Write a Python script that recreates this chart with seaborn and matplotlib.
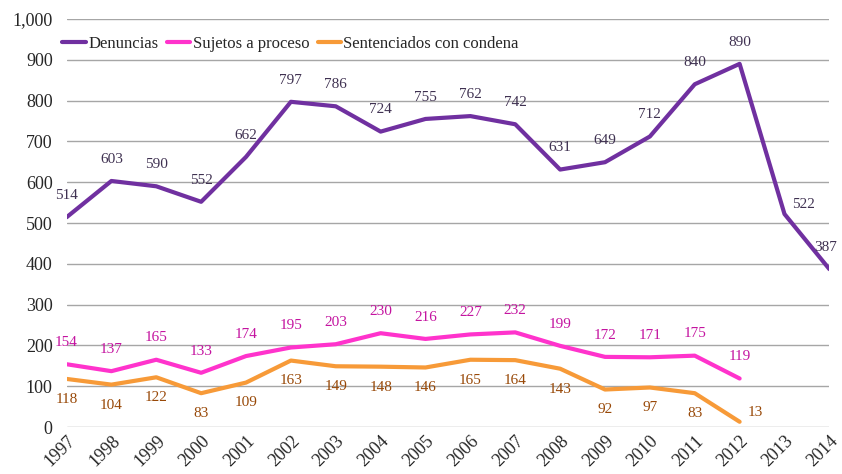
"""Denuncias, sujetos a proceso y sentenciados, 1997-2014"""

import matplotlib.pyplot as plt
import matplotlib.ticker as mticker
import pandas as pd
import seaborn as sns

YEARS = list(range(1997, 2015))
DENUNCIAS = [514, 603, 590, 552, 662, 797, 786, 724, 755, 762, 742, 631, 649, 712, 840, 890, 522, 387]
SUJETOS = [154, 137, 165, 133, 174, 195, 203, 230, 216, 227, 232, 199, 172, 171, 175, 119]
SENTENCIADOS = [118, 104, 122, 83, 109, 163, 149, 148, 146, 165, 164, 143, 92, 97, 83, 13]

SERIES = ["Denuncias", "Sujetos a proceso", "Sentenciados con condena"]
LINE_COLORS = ["#7030A0", "#FF33CC", "#F79A38"]
LABEL_COLORS = ["#3F3151", "#C414A0", "#984807"]

# a few labels sit beside their point instead of above/below it (points offset)
SPECIAL_OFFSETS = {
    ("Denuncias", 2013): (14, 2),
    ("Denuncias", 2014): (-3, 11),
    ("Sentenciados con condena", 2012): (11, 2),
}


def build_frame() -> pd.DataFrame:
    rows = []
    for name, values in zip(SERIES, [DENUNCIAS, SUJETOS, SENTENCIADOS]):
        for year, v in zip(YEARS, values):
            rows.append({"Año": year, "Valor": v, "Serie": name})
    return pd.DataFrame(rows)


def main() -> None:
    sns.set_style("white")
    plt.rcParams["font.family"] = ["Liberation Serif", "DejaVu Serif"]

    df = build_frame()
    fig = plt.figure(figsize=(8.42, 4.74), dpi=100)
    ax = fig.add_axes([0.079, 0.099, 0.906, 0.861])

    sns.lineplot(data=df, x="Año", y="Valor", hue="Serie", hue_order=SERIES,
                 palette=LINE_COLORS, linewidth=3, ax=ax)

    # data labels
    offsets = [11, 11, -10]
    for name, values, color, off in zip(SERIES, [DENUNCIAS, SUJETOS, SENTENCIADOS], LABEL_COLORS, offsets):
        for year, v in zip(YEARS, values):
            dx, dy = SPECIAL_OFFSETS.get((name, year), (0, off))
            ax.annotate(str(v), (year, v), xytext=(dx, dy), textcoords="offset points",
                        ha="center", va="bottom" if dy > 0 else "top",
                        color=color, fontsize=11)

    ax.set_xlim(1997, 2014)
    ax.set_ylim(0, 1000)
    ax.set_xticks(YEARS)
    ax.set_xticklabels([str(y) for y in YEARS], rotation=45, ha="right",
                       rotation_mode="anchor", fontsize=13)
    ax.yaxis.set_major_locator(mticker.MultipleLocator(100))
    ax.yaxis.set_major_formatter(mticker.FuncFormatter(lambda v, p: f"{int(v):,}"))
    ax.tick_params(axis="y", labelsize=13, length=0, pad=10)
    ax.tick_params(axis="x", length=0, pad=4)
    ax.set_xlabel("")
    ax.set_ylabel("")
    ax.grid(axis="y", color="#A6A6A6", linewidth=1)
    ax.set_axisbelow(True)
    sns.despine(ax=ax, left=True, bottom=True)

    ax.legend(loc="upper left", bbox_to_anchor=(-0.025, 0.995), ncol=3, frameon=False,
              fontsize=12, handlelength=1.4, handletextpad=0.15, columnspacing=0.5)

    fig.savefig("out.png", dpi=100)
    plt.close(fig)


if __name__ == "__main__":
    main()
